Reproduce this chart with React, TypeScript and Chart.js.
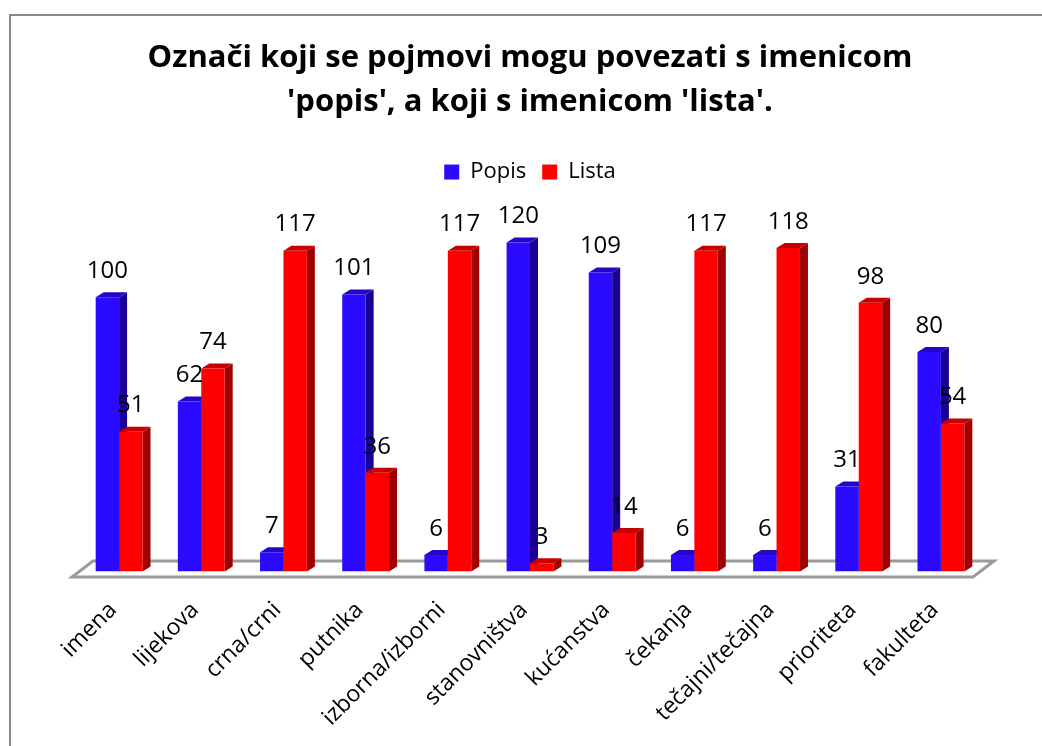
import React, { useEffect, useRef } from "react";
import { Chart, registerables } from "chart.js";

Chart.register(...registerables);

const categories = [
  "imena",
  "lijekova",
  "crna/crni",
  "putnika",
  "izborna/izborni",
  "stanovništva",
  "kućanstva",
  "čekanja",
  "tečajni/tečajna",
  "prioriteta",
  "fakulteta",
];
const popisValues = [100, 62, 7, 101, 6, 120, 109, 6, 6, 31, 80];
const listaValues = [51, 74, 117, 36, 117, 3, 14, 117, 118, 98, 54];
const seriesNames = ["Popis", "Lista"];
const titleLines = [
  "Označi koji se pojmovi mogu povezati s imenicom",
  "'popis', a koji s imenicom 'lista'.",
];

const FONT = "'Open Sans', 'Noto Sans', sans-serif";
const frontColors = ["#2a0bff", "#ff0000"];
const sideColors = ["#1c0096", "#a00000"];
const topColors = ["#2506c8", "#c80000"];
const DX = 8;
const DY = 5;

const bar3d = {
  id: "bar3d",
  beforeDatasetsDraw(chart: any) {
    const { ctx, chartArea } = chart;
    const base = chart.scales.y.getPixelForValue(0);
    ctx.save();
    // floor
    const fl = chartArea.left - 6;
    const fr = chartArea.right - 9;
    const fy = base + 5.5;
    const bx = 21;
    const by = 16;
    ctx.beginPath();
    ctx.moveTo(fl, fy);
    ctx.lineTo(fl + bx, fy - by);
    ctx.lineTo(fr + bx, fy - by);
    ctx.lineTo(fr, fy);
    ctx.closePath();
    ctx.fillStyle = "#ffffff";
    ctx.fill();
    ctx.strokeStyle = "#9b9b9b";
    ctx.lineWidth = 3;
    ctx.stroke();
    // side and top faces
    chart.data.datasets.forEach((_ds: any, i: number) => {
      const meta = chart.getDatasetMeta(i);
      meta.data.forEach((el: any) => {
        const { x, y, base: b, width } = el.getProps(["x", "y", "base", "width"], true);
        const l = x - width / 2;
        const r = x + width / 2;
        ctx.beginPath();
        ctx.moveTo(r, y);
        ctx.lineTo(r + DX, y - DY);
        ctx.lineTo(r + DX, b - DY);
        ctx.lineTo(r, b);
        ctx.closePath();
        ctx.fillStyle = sideColors[i];
        ctx.fill();
        ctx.beginPath();
        ctx.moveTo(l, y);
        ctx.lineTo(l + DX, y - DY);
        ctx.lineTo(r + DX, y - DY);
        ctx.lineTo(r, y);
        ctx.closePath();
        ctx.fillStyle = topColors[i];
        ctx.fill();
      });
    });
    ctx.restore();
  },
  afterDatasetsDraw(chart: any) {
    const { ctx } = chart;
    ctx.save();
    ctx.font = `24px ${FONT}`;
    ctx.fillStyle = "#000";
    ctx.textAlign = "center";
    ctx.textBaseline = "middle";
    chart.data.datasets.forEach((ds: any, i: number) => {
      const meta = chart.getDatasetMeta(i);
      meta.data.forEach((el: any, j: number) => {
        const { x, y } = el.getProps(["x", "y"], true);
        ctx.fillText(String(ds.data[j]), x, y - 26);
      });
    });
    ctx.restore();
  },
};

export default function App() {
  const ref = useRef<HTMLCanvasElement | null>(null);
  useEffect(() => {
    if (!ref.current) return;
    const chart = new Chart(ref.current, {
      type: "bar",
      data: {
        labels: categories,
        datasets: [
          {
            label: seriesNames[0],
            data: popisValues,
            backgroundColor: frontColors[0],
            borderWidth: 0,
            categoryPercentage: 0.57,
            barPercentage: 1,
          },
          {
            label: seriesNames[1],
            data: listaValues,
            backgroundColor: frontColors[1],
            borderWidth: 0,
            categoryPercentage: 0.57,
            barPercentage: 1,
          },
        ],
      },
      options: {
        responsive: false,
        animation: false,
        layout: { padding: { left: 67, right: 60, top: 20, bottom: 0 } },
        plugins: {
          title: {
            display: true,
            text: titleLines,
            color: "#000",
            font: { family: FONT, size: 31, weight: "bold", lineHeight: 1.42 },
            padding: { top: 0, bottom: 21 },
          },
          legend: {
            position: "top",
            labels: {
              boxWidth: 15,
              boxHeight: 15,
              color: "#000",
              font: { family: FONT, size: 22 },
              padding: 16,
            },
          },
          tooltip: { enabled: false },
        },
        scales: {
          x: {
            grid: { display: false, drawTicks: false },
            border: { display: false },
            ticks: {
              minRotation: 45,
              maxRotation: 45,
              autoSkip: false,
              padding: 25,
              labelOffset: -6,
              color: "#000",
              font: { family: FONT, size: 23 },
            },
            afterFit: (s: any) => {
              s.height = 174.5;
            },
          },
          y: { display: false, min: 0, max: 138 },
        },
      },
      plugins: [bar3d],
    });
    return () => chart.destroy();
  }, []);
  return (
    <div
      style={{
        position: "fixed",
        left: 9,
        top: 14,
        width: 1031,
        height: 730,
        borderLeft: "2px solid #888",
        borderTop: "2px solid #888",
        background: "#fff",
        overflow: "hidden",
      }}
    >
      <canvas ref={ref} width={1031} height={730} style={{ display: "block" }} />
    </div>
  );
}
